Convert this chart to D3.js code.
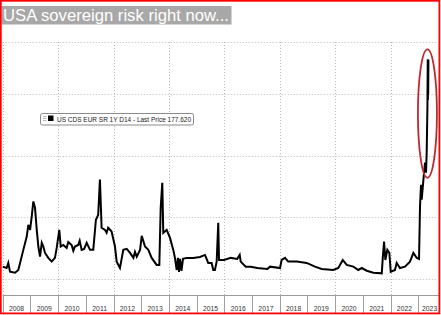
<!DOCTYPE html>
<html>
<head>
<meta charset="utf-8">
<script src="https://cdn.jsdelivr.net/npm/d3@7"></script>
<style>
  body { margin: 0; background: #fff; }
  svg { display: block; }
</style>
</head>
<body>
<div id="chart"></div>
<script>
var width = 441;
var height = 315;

var title = "USA sovereign risk right now...";
var legendLabel = "US CDS EUR SR 1Y D14 - Last Price 177.620";

var years = [2008,2009,2010,2011,2012,2013,2014,2015,2016,2017,2018,2019,2020,2021,2022,2023];
var gridValues = [0, 50, 100, 150];

var dates = [
  "2008-01-01","2008-02-22","2008-03-15","2008-04-06","2008-06-12","2008-07-25","2008-08-17","2008-09-29","2008-11-13","2008-12-04","2008-12-27",
  "2009-01-18","2009-02-08","2009-03-02","2009-03-25","2009-04-15","2009-05-07","2009-05-30","2009-06-20","2009-07-12","2009-08-24","2009-10-08","2009-11-20","2009-12-13",
  "2010-01-16","2010-02-04","2010-03-10","2010-04-23","2010-05-15","2010-06-28","2010-07-20","2010-08-10","2010-09-23","2010-10-12","2010-11-07","2010-12-10",
  "2011-01-12","2011-02-25","2011-04-09","2011-05-14","2011-06-13","2011-07-06","2011-07-28","2011-09-10","2011-10-02","2011-10-23","2011-12-07",
  "2012-01-20","2012-02-12","2012-03-26","2012-05-09","2012-06-23","2012-08-06","2012-09-19","2012-10-10","2012-11-02","2012-12-16",
  "2013-01-07","2013-02-19","2013-04-04","2013-05-18","2013-07-23","2013-08-27","2013-09-14","2013-10-05","2013-10-18","2013-12-02",
  "2014-01-15","2014-02-27","2014-03-21","2014-04-13","2014-04-30","2014-05-13","2014-05-27","2014-06-15","2014-07-05","2014-08-23","2014-11-18",
  "2015-02-14","2015-04-21","2015-06-03","2015-07-18","2015-08-08","2015-08-30","2015-09-22","2015-10-13","2015-10-23","2015-12-28",
  "2016-03-25","2016-06-20","2016-07-22","2016-08-04","2016-10-09","2016-12-14",
  "2017-03-11","2017-07-21","2017-08-26",
  "2018-01-04","2018-01-26","2018-03-11","2018-04-23","2018-08-12","2018-12-22",
  "2019-04-10","2019-07-07","2019-12-08",
  "2020-02-12","2020-04-10","2020-06-02","2020-08-28","2020-11-02","2020-12-17",
  "2021-02-21","2021-05-19","2021-09-07","2021-09-20","2021-10-07","2021-10-24","2021-11-19","2021-12-16",
  "2022-01-03","2022-02-28","2022-03-22","2022-05-05","2022-07-10","2022-09-14","2022-10-28","2022-12-12",
  "2023-01-11","2023-01-24","2023-02-06","2023-02-15","2023-03-08","2023-03-31","2023-04-13","2023-04-22","2023-05-02","2023-05-06","2023-05-08","2023-05-10","2023-05-12","2023-05-15"
];

var values = [
  10.0, 8.9, 13.0, 5.9, 5.1, 7.3, 13.0, 23.6, 34.4, 43.9, 39.8,
  50.7, 62.8, 57.7, 39.8, 26.3, 18.1, 29.3, 26.3, 21.1, 17.1, 14.1, 17.1, 25.2,
  39.8, 26.3, 27.6, 25.2, 30.0, 27.6, 22.8, 26.3, 27.6, 31.0, 23.6, 24.4,
  29.3, 23.6, 23.6, 48.0, 52.0, 80.5, 41.5, 39.8, 37.4, 41.5, 38.5,
  26.3, 14.1, 8.9, 23.6, 24.4, 21.1, 17.1, 22.0, 18.1, 23.6,
  35.0, 26.3, 23.6, 17.1, 11.4, 11.4, 57.7, 78.0, 37.4, 39.8,
  33.3, 23.6, 17.1, 7.3, 17.1, 5.7, 16.3, 6.5, 16.3, 17.1, 17.1,
  17.9, 19.5, 13.0, 13.0, 7.3, 7.3, 14.1, 45.5, 15.4, 15.4,
  17.1, 16.3, 19.5, 14.1, 10.0, 10.0,
  8.9, 8.1, 10.0,
  8.9, 15.4, 17.1, 14.1, 14.1, 13.0,
  10.0, 8.1, 7.3,
  8.9, 15.4, 11.4, 10.0, 7.3, 8.9,
  6.7, 5.1, 4.6, 17.1, 30.3, 15.4, 23.6, 21.1,
  5.9, 7.3, 13.0, 8.9, 10.0, 14.1, 21.1, 17.1,
  16.3, 58.8, 76.4, 64.2, 79.1, 94.3, 86.2, 102.4, 140, 178, 145, 176, 150, 177.62
];

// range of the red ring drawn round the last spike
var ringTop = 186;
var ringBottom = 82;

var parse = d3.timeParse("%Y-%m-%d");
var data = dates.map(function(d, i) { return {date: parse(d), value: values[i]}; });

var plotTop = 42, plotBottom = 295, plotLeft = 2.7, plotRight = 437;

var x = d3.scaleTime()
    .domain([new Date(2008, 0, 1), new Date(2023, 8, 5)])
    .range([plotLeft, plotRight]);

var y = d3.scaleLinear()
    .domain([0, 192])
    .range([279, plotTop]);

var svg = d3.select("#chart")
    .append("svg")
    .attr("width", width)
    .attr("height", height);

svg.append("rect")
    .attr("width", width)
    .attr("height", height)
    .attr("fill", "#fff");

// title
svg.append("rect")
    .attr("x", 1.5).attr("y", 6)
    .attr("width", 230).attr("height", 18.5)
    .attr("fill", "#a8a8a8");

svg.append("text")
    .attr("x", 3).attr("y", 20.7)
    .attr("font-family", "Liberation Sans, Arial, sans-serif")
    .attr("font-size", 17)
    .attr("fill", "#fff")
    .attr("textLength", 226)
    .attr("lengthAdjust", "spacingAndGlyphs")
    .text(title);

// grid
var grid = svg.append("g")
    .attr("stroke", "#b8b8b8")
    .attr("stroke-width", 1)
    .attr("stroke-dasharray", "1,2");

grid.selectAll("line.h")
    .data(gridValues)
    .enter()
    .append("line")
    .attr("class", "h")
    .attr("x1", plotLeft).attr("x2", plotRight)
    .attr("y1", function(d) { return Math.round(y(d)) + 0.5; })
    .attr("y2", function(d) { return Math.round(y(d)) + 0.5; });

grid.append("line")
    .attr("x1", plotLeft).attr("x2", plotRight)
    .attr("y1", plotTop + 0.5).attr("y2", plotTop + 0.5);

grid.selectAll("line.v")
    .data(years.filter(function(d) { return d % 2 == 0; }))
    .enter()
    .append("line")
    .attr("class", "v")
    .attr("x1", function(d) { return Math.round(x(new Date(d, 0, 1))) + 0.5; })
    .attr("x2", function(d) { return Math.round(x(new Date(d, 0, 1))) + 0.5; })
    .attr("y1", plotTop).attr("y2", plotBottom);

// x axis: baseline, year separators, labels
var axis = svg.append("g");

axis.append("line")
    .attr("x1", plotLeft).attr("x2", width - 2)
    .attr("y1", plotBottom + 0.5).attr("y2", plotBottom + 0.5)
    .attr("stroke", "#9a9a9a");

axis.selectAll("line.sep")
    .data(years)
    .enter()
    .append("line")
    .attr("class", "sep")
    .attr("x1", function(d) { return Math.round(x(new Date(d, 0, 1))) + 0.5; })
    .attr("x2", function(d) { return Math.round(x(new Date(d, 0, 1))) + 0.5; })
    .attr("y1", plotBottom).attr("y2", 313)
    .attr("stroke", "#a0a0a0");

axis.selectAll("text")
    .data(years)
    .enter()
    .append("text")
    .attr("x", function(d) {
        var a = x(new Date(d, 0, 1));
        var b = Math.min(x(new Date(d + 1, 0, 1)), width);
        return (a + b) / 2;
    })
    .attr("y", 310.5)
    .attr("text-anchor", "middle")
    .attr("font-family", "Liberation Sans, Arial, sans-serif")
    .attr("font-size", 6.8)
    .attr("fill", "#333")
    .text(function(d) { return d; });

// the series
var line = d3.line()
    .x(function(d) { return x(d.date); })
    .y(function(d) { return y(d.value); });

svg.append("path")
    .datum(data)
    .attr("d", line)
    .attr("fill", "none")
    .attr("stroke", "#000")
    .attr("stroke-width", 2)
    .attr("stroke-linejoin", "miter");

// legend
var legend = svg.append("g");

legend.append("rect")
    .attr("x", 40.5).attr("y", 113.5)
    .attr("width", 153).attr("height", 11.5)
    .attr("rx", 2).attr("ry", 2)
    .attr("fill", "#fff")
    .attr("stroke", "#8a8a8a");

legend.selectAll("line")
    .data([116.5, 118.5, 120.5])
    .enter()
    .append("line")
    .attr("x1", 43).attr("x2", 46.5)
    .attr("y1", function(d) { return d; })
    .attr("y2", function(d) { return d; })
    .attr("stroke", "#aaa")
    .attr("stroke-width", 0.8);

legend.append("rect")
    .attr("x", 48).attr("y", 115.5)
    .attr("width", 5.5).attr("height", 5.5)
    .attr("fill", "#000");

legend.append("text")
    .attr("x", 57).attr("y", 121.5)
    .attr("font-family", "Liberation Sans, Arial, sans-serif")
    .attr("font-size", 7)
    .attr("fill", "#222")
    .attr("textLength", 134)
    .attr("lengthAdjust", "spacingAndGlyphs")
    .text(legendLabel);

// red ring around the latest spike
var last = data[data.length - 1];
svg.append("ellipse")
    .attr("cx", x(last.date) - 1)
    .attr("cy", (y(ringTop) + y(ringBottom)) / 2)
    .attr("rx", 9.5)
    .attr("ry", (y(ringBottom) - y(ringTop)) / 2)
    .attr("fill", "none")
    .attr("stroke", "#c0282f")
    .attr("stroke-width", 1.8);

// outer red frame
svg.append("rect")
    .attr("x", 0.8).attr("y", 0.8)
    .attr("width", 438.6).attr("height", 312.6)
    .attr("fill", "none")
    .attr("stroke", "#f00")
    .attr("stroke-width", 1.8);
</script>
</body>
</html>
